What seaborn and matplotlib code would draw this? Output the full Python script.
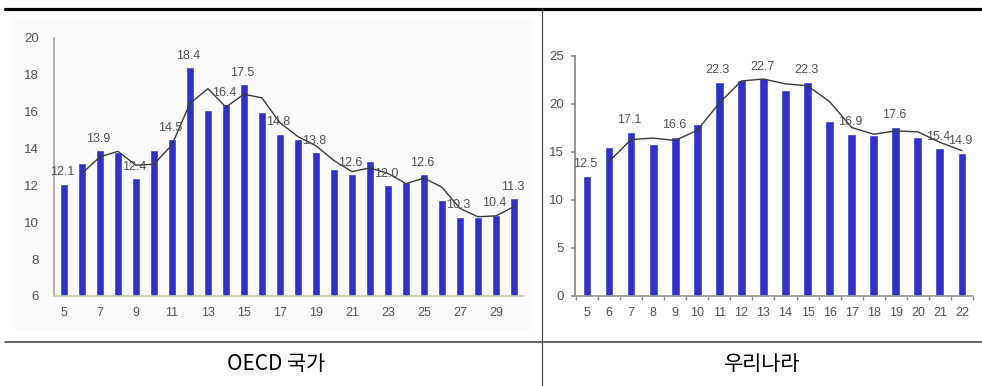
import numpy as np
import pandas as pd
import seaborn as sns
import matplotlib
matplotlib.use("Agg")
import matplotlib.pyplot as plt
from matplotlib.lines import Line2D
from matplotlib.patches import Rectangle

# ---- data -------------------------------------------------------------
oecd_years = list(range(5, 31))
oecd_vals = [12.1, 13.2, 13.9, 13.8, 12.4, 13.9, 14.5, 18.4, 16.1, 16.4,
             17.5, 16.0, 14.8, 14.5, 13.8, 12.9, 12.6, 13.3, 12.0, 12.2,
             12.6, 11.2, 10.3, 10.3, 10.4, 11.3]
oecd_labeled = [5, 7, 9, 11, 12, 14, 15, 17, 19, 21, 23, 25, 27, 29, 30]
oecd_ticks = [5, 7, 9, 11, 13, 15, 17, 19, 21, 23, 25, 27, 29]

korea_years = list(range(5, 23))
korea_vals = [12.5, 15.5, 17.1, 15.8, 16.6, 17.9, 22.3, 22.5, 22.7, 21.5,
              22.3, 18.2, 16.9, 16.8, 17.6, 16.6, 15.4, 14.9]
korea_labeled = [5, 7, 9, 11, 13, 15, 17, 19, 21, 22]

panel_titles = ["OECD 국가", "우리나라"]

# ---- style ------------------------------------------------------------
sns.set_theme(style="white")
plt.rcParams["font.family"] = ["Liberation Sans", "Noto Sans CJK KR", "DejaVu Sans"]

BAR = "#3131c8"
TXT = "#505050"
FS = 9

W, H = 982, 386
fig = plt.figure(figsize=(W / 100, H / 100), dpi=100)


def fx(px):
    return px / W


def fy(py):
    return 1 - py / H


def draw_panel(ax, years, vals, labeled):
    df = pd.DataFrame({"year": years, "value": vals})
    sns.barplot(data=df, x="year", y="value", color=BAR, saturation=1,
                width=0.4, ax=ax)
    # two-period moving-average trendline
    ma = df["value"].rolling(2).mean()
    pos = np.arange(len(df))
    sns.lineplot(x=pos[1:], y=ma.values[1:], color="#3a3a3a", linewidth=1.0,
                 ax=ax)
    for i, (yr, v) in enumerate(zip(years, vals)):
        if yr in labeled:
            ax.annotate(f"{v:.1f}", (i, v), xytext=(-1, 4),
                        textcoords="offset points", ha="center", va="bottom",
                        fontsize=FS, color=TXT)
    ax.set_xlabel("")
    ax.set_ylabel("")
    ax.set_facecolor("none")
    for s in ("top", "right"):
        ax.spines[s].set_visible(False)


# faint chart background behind the OECD panel
fig.add_artist(Rectangle((fx(13), fy(330)), fx(520), fy(18) - fy(330),
                         transform=fig.transFigure, facecolor="#fbfbfb",
                         edgecolor="none", zorder=0))

# ---- OECD panel ---------------------------------------------------------
ax1 = fig.add_axes([fx(54), fy(296), fx(523 - 54), fy(38) - fy(296)])
draw_panel(ax1, oecd_years, oecd_vals, oecd_labeled)
ax1.set_ylim(6, 20)
ax1.set_yticks(range(6, 21, 2))
ax1.set_xlim(-0.55, len(oecd_years) - 0.5)
ax1.set_xticks([oecd_years.index(t) for t in oecd_ticks])
ax1.set_xticklabels([str(t) for t in oecd_ticks])
ax1.tick_params(axis="x", length=0, labelsize=FS, labelcolor=TXT, pad=8)
ax1.tick_params(axis="y", length=0, labelsize=FS + 0.5, labelcolor=TXT, pad=11)
ax1.spines["left"].set_color("#a8a8a8")
ax1.spines["bottom"].set_color("#c8c8b0")

# ---- Korea panel --------------------------------------------------------
ax2 = fig.add_axes([fx(575), fy(296), fx(973 - 575), fy(56) - fy(296)])
draw_panel(ax2, korea_years, korea_vals, korea_labeled)
ax2.set_ylim(0, 25)
ax2.set_yticks(range(0, 26, 5))
ax2.set_xlim(-0.54, len(korea_years) - 0.5)
ax2.set_xticks(range(len(korea_years)))
ax2.set_xticklabels([str(y) for y in korea_years])
ax2.set_xticks(np.arange(-0.5, len(korea_years), 1.0), minor=True)
ax2.tick_params(axis="x", which="major", length=0, labelsize=FS,
                labelcolor=TXT, pad=8)
ax2.tick_params(axis="x", which="minor", length=3, color="#888888",
                direction="out", bottom=True)
ax2.tick_params(axis="y", length=3, color="#888888", direction="out",
                left=True, labelsize=FS + 0.5, labelcolor=TXT, pad=5)
ax2.spines["left"].set_color("#888888")
ax2.spines["bottom"].set_color("#999999")

# ---- table frame --------------------------------------------------------
fig.add_artist(Line2D([fx(5), 1], [fy(9), fy(9)], color="black", lw=2.3,
                      transform=fig.transFigure))
fig.add_artist(Line2D([fx(5), 1], [fy(342), fy(342)], color="#404040", lw=1.1,
                      transform=fig.transFigure))
fig.add_artist(Line2D([fx(542), fx(542)], [fy(9), 0], color="#404040", lw=0.8,
                      transform=fig.transFigure))

fig.text(fx(276), fy(364), panel_titles[0], ha="center", va="center",
         fontsize=15, color="black", family=["Noto Sans CJK KR", "DejaVu Sans"])
fig.text(fx(762), fy(364), panel_titles[1], ha="center", va="center",
         fontsize=15, color="black", family=["Noto Sans CJK KR", "DejaVu Sans"])

fig.savefig("out.png", dpi=100, facecolor="white")
